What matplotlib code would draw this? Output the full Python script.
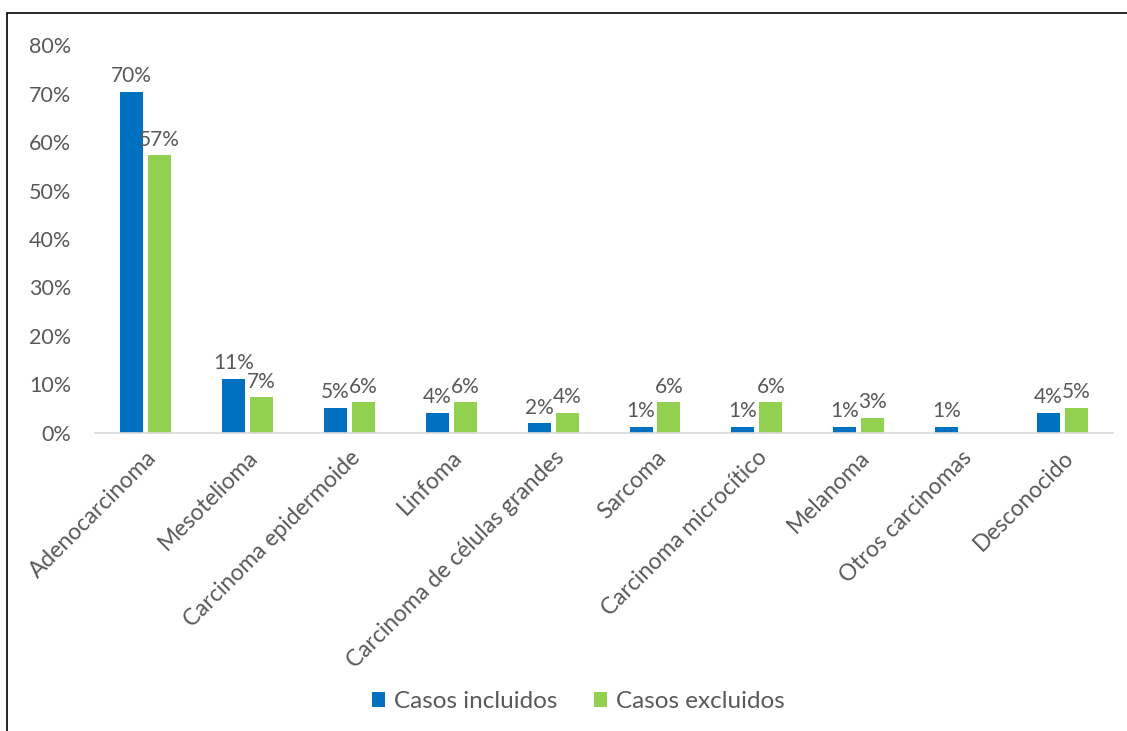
import matplotlib.pyplot as plt
import numpy as np
from matplotlib.patches import Rectangle

# Tumour types and percentages
categories = ['Adenocarcinoma', 'Mesotelioma', 'Carcinoma epidermoide', 'Linfoma',
              'Carcinoma de células grandes', 'Sarcoma', 'Carcinoma microcítico',
              'Melanoma', 'Otros carcinomas', 'Desconocido']
incluidos = [70.4, 11.2, 5.2, 4.1, 2.0, 1.2, 1.2, 1.2, 1.2, 4.1]
excluidos = [57.3, 7.3, 6.3, 6.3, 4.1, 6.3, 6.3, 3.1, 0, 5.2]
series_names = ['Casos incluidos', 'Casos excluidos']

plt.rcParams['font.family'] = ['Lato', 'DejaVu Sans']
text_color = '#595959'
blue = '#0070C0'
green = '#92D050'

fig = plt.figure(figsize=(11.27, 7.31), dpi=100)
ax = fig.add_axes([0.084, 0.408, 0.904, 0.530])

x = np.arange(len(categories))
w = 0.226
off = 0.137
b1 = ax.bar(x - off, incluidos, width=w, color=blue, label=series_names[0])
b2 = ax.bar(x + off, excluidos, width=w, color=green, label=series_names[1])

for bars, vals in ((b1, incluidos), (b2, excluidos)):
    for rect, v in zip(bars, vals):
        if v <= 0:
            continue
        ax.annotate(f'{round(v):.0f}%', (rect.get_x() + rect.get_width() / 2, v),
                    textcoords='offset points', xytext=(0, 4), ha='center', va='bottom',
                    fontsize=15, color=text_color)

ax.set_xlim(-0.5, len(categories) - 0.5)
ax.set_ylim(0, 80)
ax.set_yticks(np.arange(0, 81, 10))
ax.set_yticklabels([f'{v}%' for v in range(0, 81, 10)])
ax.set_xticks(x)
ax.set_xticklabels(categories, rotation=45, ha='right', rotation_mode='anchor')
ax.tick_params(axis='y', length=0, labelsize=15.5, colors=text_color, pad=17)
ax.tick_params(axis='x', length=0, labelsize=16.5, colors=text_color, pad=10)

for s in ['top', 'right', 'left']:
    ax.spines[s].set_visible(False)
ax.spines['bottom'].set_color('#d9d9d9')
ax.spines['bottom'].set_linewidth(1.2)

leg = fig.legend(loc='center', bbox_to_anchor=(0.513, 0.040), ncol=2, frameon=False,
                 fontsize=17.5, handlelength=0.55, handleheight=0.55, columnspacing=1.5,
                 handletextpad=0.35)
for t in leg.get_texts():
    t.set_color(text_color)

# Outer chart border (only top and left visible in the reference)
fig.patches.append(Rectangle((7 / 1127, -0.2), 1.2, 1 - 13 / 731 + 0.2,
                             transform=fig.transFigure, fill=False,
                             edgecolor='black', linewidth=1.2, clip_on=False))

fig.savefig('out.png', dpi=100)
